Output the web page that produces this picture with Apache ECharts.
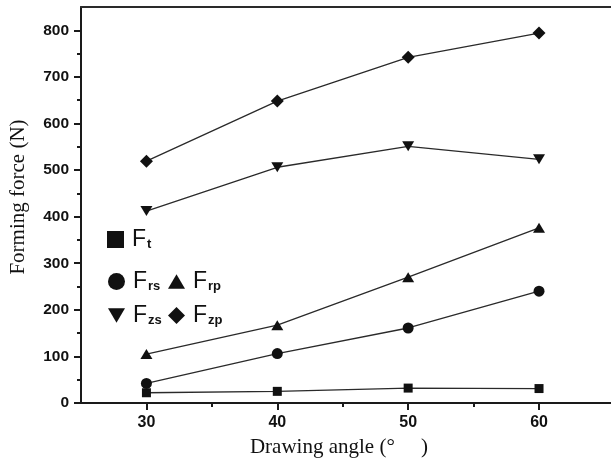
<!DOCTYPE html>
<html>
<head>
<meta charset="utf-8">
<script src="https://cdn.jsdelivr.net/npm/echarts@6/dist/echarts.min.js"></script>
<style>
  html, body { margin: 0; padding: 0; background: #fff; }
  #chart { width: 611px; height: 460px; }
</style>
</head>
<body>
<div id="chart"></div>
<script>
// Forming force components versus drawing angle
const angles = [30, 40, 50, 60];
const Ft  = [22, 25, 32, 31];
const Frs = [42, 106, 161, 240];
const Frp = [105, 167, 270, 376];
const Fzs = [412, 506, 551, 523];
const Fzp = [519, 648, 742, 794];

const xTicks = [30, 40, 50, 60];
const xMinorTicks = [35, 45, 55];
const yTicks = [0, 100, 200, 300, 400, 500, 600, 700, 800];
const yMinorTicks = [50, 150, 250, 350, 450, 550, 650, 750];

const seriesNames = ['Ft', 'Frs', 'Frp', 'Fzs', 'Fzp'];
const seriesValues = [Ft, Frs, Frp, Fzs, Fzp];

const DOWN_TRI = 'path://M0,0L2,0L1,1.7Z';
const UP_TRI = 'path://M1,0L2,1.7L0,1.7Z';
const symbols = ['rect', 'circle', UP_TRI, DOWN_TRI, 'diamond'];
const symbolSizes = [9, 11, [12, 10], [12, 10], 13];
const legendIcons = ['rect', 'circle', UP_TRI, DOWN_TRI, 'diamond'];
const legendPos = [[107, 228], [108, 270], [168, 270], [108, 304], [168, 304]];

const ink = '#111';
const sansFont = '"Liberation Sans", Arial, sans-serif';
const serifFont = '"Liberation Serif", "Times New Roman", serif';

const chart = echarts.init(document.getElementById('chart'), null, { renderer: 'canvas' });

const xBase = { type: 'value', min: 25, max: 65.5, gridIndex: 0 };
const yBase = { type: 'value', min: 0, max: 850, gridIndex: 0 };

const legends = seriesNames.map((name, i) => ({
  left: legendPos[i][0],
  top: legendPos[i][1],
  orient: 'horizontal',
  padding: 0,
  itemWidth: 17,
  itemHeight: 17,
  selectedMode: false,
  data: [{ name: name, icon: legendIcons[i], itemStyle: { color: ink } }],
  formatter: n => '{f|' + n.charAt(0) + '}{s|' + n.slice(1) + '}',
  textStyle: {
    color: ink,
    rich: {
      f: { fontFamily: sansFont, fontSize: 23, color: ink, padding: [0, 0, 0, 3] },
      s: { fontFamily: sansFont, fontSize: 13, fontWeight: 'bold', color: ink, verticalAlign: 'bottom', padding: [0, 0, 0, 1] }
    }
  }
}));

const option = {
  backgroundColor: '#fff',
  animation: false,
  grid: { left: 81, right: 0, top: 7, bottom: 57, containLabel: false, outerBoundsMode: 'none' },
  legend: legends,
  xAxis: [
    Object.assign({}, xBase, {
      position: 'bottom',
      name: 'Drawing angle (°\u2003 )',
      nameLocation: 'middle',
      nameGap: 34,
      nameTextStyle: { fontFamily: serifFont, fontSize: 21, color: ink, verticalAlign: 'top', padding: [0, 14, 0, 0] },
      axisLine: { onZero: false, lineStyle: { color: '#1a1a1a', width: 2 } },
      axisTick: { show: true, inside: false, length: 7, customValues: xTicks, lineStyle: { color: '#1a1a1a', width: 2 } },
      axisLabel: { customValues: xTicks, margin: 12, fontFamily: sansFont, fontWeight: 'bold', fontSize: 16, color: ink },
      splitLine: { show: false }
    }),
    Object.assign({}, xBase, {
      position: 'bottom',
      axisLine: { show: false },
      axisTick: { show: true, inside: false, length: 4, customValues: xMinorTicks, lineStyle: { color: '#1a1a1a', width: 2 } },
      axisLabel: { show: false },
      splitLine: { show: false }
    }),
    Object.assign({}, xBase, {
      position: 'top',
      axisLine: { show: true, onZero: false, lineStyle: { color: '#2a2a2a', width: 2 } },
      axisTick: { show: false },
      axisLabel: { show: false },
      splitLine: { show: false }
    })
  ],
  yAxis: [
    Object.assign({}, yBase, {
      position: 'left',
      name: 'Forming force (N)',
      nameLocation: 'middle',
      nameGap: 52,
      nameTextStyle: { fontFamily: serifFont, fontSize: 21, color: ink, padding: [0, 0, 0, 16] },
      axisLine: { show: true, onZero: false, lineStyle: { color: '#1a1a1a', width: 2 } },
      axisTick: { show: true, inside: false, length: 7, customValues: yTicks, lineStyle: { color: '#1a1a1a', width: 2 } },
      axisLabel: { customValues: yTicks, margin: 12, fontFamily: sansFont, fontWeight: 'bold', fontSize: 15.5, color: ink },
      splitLine: { show: false }
    }),
    Object.assign({}, yBase, {
      position: 'left',
      axisLine: { show: false },
      axisTick: { show: true, inside: false, length: 4, customValues: yMinorTicks, lineStyle: { color: '#1a1a1a', width: 2 } },
      axisLabel: { show: false },
      splitLine: { show: false }
    })
  ],
  series: seriesNames.map((name, i) => ({
    name: name,
    type: 'line',
    xAxisIndex: 0,
    yAxisIndex: 0,
    data: angles.map((a, k) => [a, seriesValues[i][k]]),
    symbol: symbols[i],
    symbolSize: symbolSizes[i],
    showSymbol: true,
    lineStyle: { color: '#2a2a2a', width: 1.3 },
    itemStyle: { color: ink, borderWidth: 0 },
    emphasis: { disabled: true },
    z: 2
  }))
};

chart.setOption(option);
</script>
</body>
</html>
